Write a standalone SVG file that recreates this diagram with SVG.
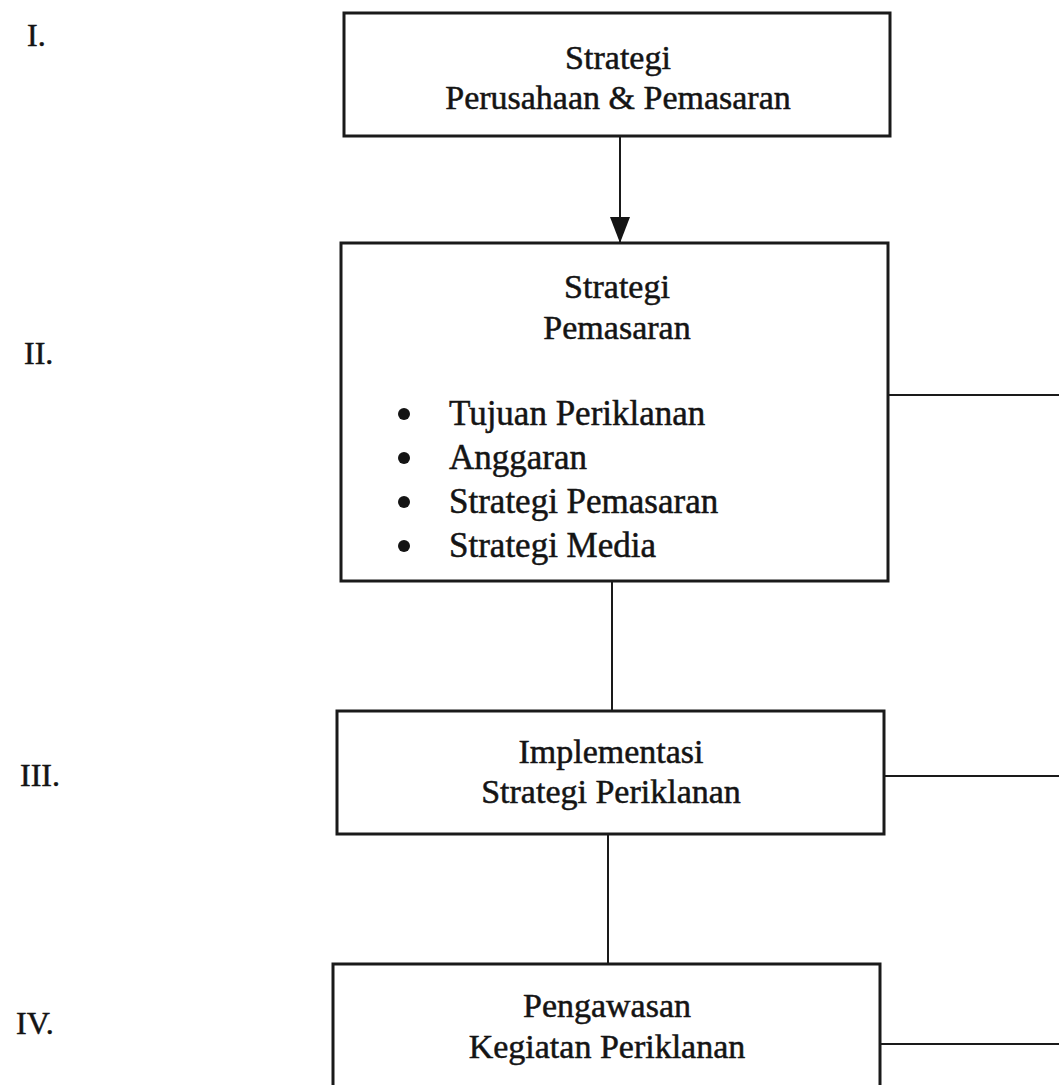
<svg xmlns="http://www.w3.org/2000/svg" width="1059" height="1085" viewBox="0 0 1059 1085">
  <style>
    .box { fill: #ffffff; stroke: #1a1a1a; stroke-width: 3; }
    .link { fill: none; stroke: #1a1a1a; stroke-width: 2; }
    .serif { font-family: "Liberation Serif", "Times New Roman", serif; font-size: 34px; fill: #141414; stroke: #141414; stroke-width: 0.5; }
    .t { text-anchor: middle; }
    .li { font-size: 35px; }
    .lvl { font-size: 32px; }
    .dot { fill: #141414; }
  </style>
  <defs>
    <marker id="arrow" viewBox="0 0 26 22" refX="26" refY="11" markerWidth="26" markerHeight="22" markerUnits="userSpaceOnUse" orient="auto">
      <path d="M0,1 L26,11 L0,21 Z" fill="#141414"/>
    </marker>
  </defs>

  <rect width="1059" height="1085" fill="#ffffff"/>

  <!-- level labels -->
  <g id="levels">
    <text class="serif lvl" x="27" y="46">I.</text>
    <text class="serif lvl" x="24" y="364">II.</text>
    <text class="serif lvl" x="20" y="786">III.</text>
    <text class="serif lvl" x="16" y="1034">IV.</text>
  </g>

  <!-- connectors -->
  <g id="connectors">
    <line class="link" x1="620" y1="136" x2="620" y2="243" marker-end="url(#arrow)"/>
    <line class="link" x1="612" y1="581" x2="612" y2="711"/>
    <line class="link" x1="608" y1="834" x2="608" y2="964"/>
    <line class="link" x1="888" y1="395" x2="1059" y2="395"/>
    <line class="link" x1="884" y1="776" x2="1059" y2="776"/>
    <line class="link" x1="880" y1="1044" x2="1059" y2="1044"/>
  </g>

  <g id="strategi-perusahaan">
    <rect class="box" x="344" y="13" width="546" height="123"/>
    <text class="serif t" x="618" y="69">Strategi</text>
    <text class="serif t" x="618" y="109">Perusahaan &amp; Pemasaran</text>
  </g>

  <g id="strategi-pemasaran">
    <rect class="box" x="341" y="243" width="547" height="338"/>
    <text class="serif t" x="617" y="298">Strategi</text>
    <text class="serif t" x="617" y="339">Pemasaran</text>
    <circle class="dot" cx="404" cy="414" r="6"/>
    <circle class="dot" cx="404" cy="458" r="6"/>
    <circle class="dot" cx="404" cy="502" r="6"/>
    <circle class="dot" cx="404" cy="546" r="6"/>
    <text class="serif li" x="449" y="425">Tujuan Periklanan</text>
    <text class="serif li" x="449" y="469">Anggaran</text>
    <text class="serif li" x="449" y="513">Strategi Pemasaran</text>
    <text class="serif li" x="449" y="557">Strategi Media</text>
  </g>

  <g id="implementasi">
    <rect class="box" x="337" y="711" width="547" height="123"/>
    <text class="serif t" x="611" y="763">Implementasi</text>
    <text class="serif t" x="611" y="803">Strategi Periklanan</text>
  </g>

  <g id="pengawasan">
    <rect class="box" x="333" y="964" width="547" height="131"/>
    <text class="serif t" x="607" y="1017">Pengawasan</text>
    <text class="serif t" x="607" y="1058">Kegiatan Periklanan</text>
  </g>
</svg>
